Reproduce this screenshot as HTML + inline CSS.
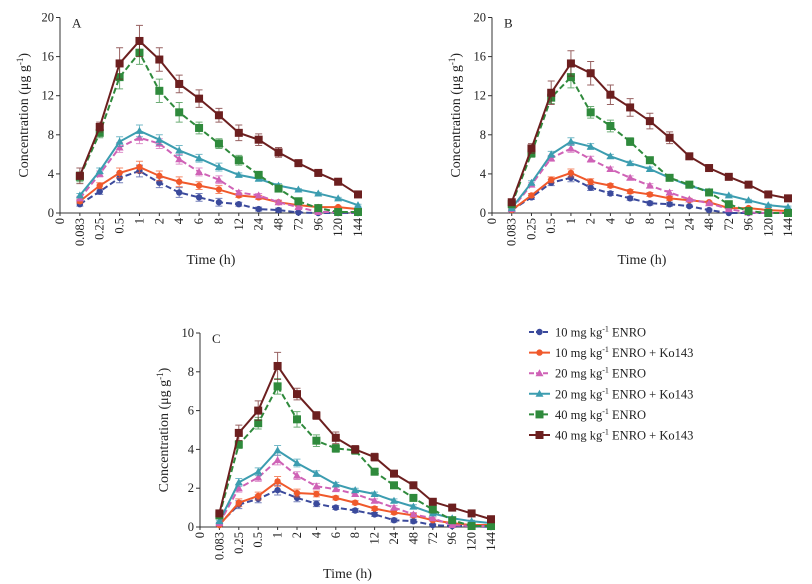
<!DOCTYPE html>
<html><head><meta charset="utf-8">
<style>
body{margin:0;background:#fff;}
svg{display:block;font-family:"Liberation Serif",serif;}
</style></head>
<body>
<svg id="chart" width="812" height="584" viewBox="0 0 812 584" xmlns="http://www.w3.org/2000/svg">
<rect width="812" height="584" fill="#fff"/>
<g id="legend"></g>
</svg>
<script>
const categories = ["0","0.083","0.25","0.5","1","2","4","6","8","12","24","48","72","96","120","144"];
const seriesNames = ["10 mg kg⁻¹ ENRO","10 mg kg⁻¹ ENRO + Ko143","20 mg kg⁻¹ ENRO","20 mg kg⁻¹ ENRO + Ko143","40 mg kg⁻¹ ENRO","40 mg kg⁻¹ ENRO + Ko143"];

// Panel A values (index 1..15 categories)
const aBlue   = [0.9,2.2,3.6,4.3,3.1,2.1,1.6,1.1,0.9,0.4,0.3,0.05,0,0,0];
const aOrange = [1.2,2.8,4.1,4.7,3.8,3.2,2.8,2.4,1.8,1.6,1.1,0.8,0.6,0.6,0.4];
const aPink   = [1.5,4.0,6.7,7.7,7.1,5.5,4.2,3.4,2.1,1.8,1.1,0.6,0.1,0.1,0.05];
const aTeal   = [1.8,4.3,7.3,8.4,7.5,6.4,5.6,4.7,3.9,3.5,2.8,2.4,2.0,1.5,0.8];
const aGreen  = [3.7,8.2,13.9,16.4,12.5,10.3,8.7,7.1,5.4,3.9,2.5,1.2,0.5,0.1,0.1];
const aBrown  = [3.8,8.8,15.3,17.6,15.7,13.2,11.7,10.0,8.2,7.5,6.2,5.1,4.1,3.2,1.9];
const aErrBrown = [0.8,0.5,1.6,1.6,1.2,0.9,0.9,0.7,0.8,0.6,0.5,0.3,0.2,0.2,0.2];
const aErrGreen = [0.5,0.5,1.2,1.2,1.2,1.0,0.6,0.5,0.5,0.3,0.2,0.2,0.1,0.1,0.1];
const aErrSmall = [0.2,0.3,0.5,0.6,0.5,0.5,0.4,0.4,0.2,0.2,0.2,0.1,0.1,0.1,0.1];

// Panel B
const bBlue   = [0.3,1.6,3.1,3.6,2.6,2.0,1.5,1.0,0.9,0.7,0.3,0,0,0,0];
const bOrange = [0.3,1.8,3.4,4.1,3.2,2.8,2.2,1.9,1.5,1.3,1.1,0.5,0.5,0.3,0.2];
const bPink   = [0.4,2.9,5.6,6.6,5.5,4.5,3.6,2.8,2.1,1.4,1.0,0.4,0.05,0,0];
const bTeal   = [0.5,3.1,6.0,7.3,6.8,5.8,5.1,4.5,3.6,2.8,2.2,1.8,1.3,0.8,0.6];
const bGreen  = [0.9,6.1,11.8,13.9,10.3,8.9,7.3,5.4,3.6,2.9,2.1,0.9,0.2,0,0];
const bBrown  = [1.1,6.6,12.3,15.3,14.3,12.1,10.8,9.4,7.7,5.8,4.6,3.7,2.9,1.9,1.5];
const bErrBrown = [0.3,0.5,1.2,1.3,1.2,1.0,0.9,0.8,0.6,0.3,0.2,0.2,0.1,0.1,0.1];
const bErrGreen = [0.2,0.4,0.6,1.1,0.6,0.6,0.4,0.2,0.2,0.2,0.1,0.1,0.1,0.1,0.1];
const bErrSmall = [0.1,0.2,0.3,0.4,0.3,0.2,0.2,0.2,0.2,0.1,0.1,0.1,0.1,0.1,0.1];

// Panel C
const cBlue   = [0.15,1.15,1.45,1.9,1.5,1.2,1.0,0.85,0.65,0.35,0.3,0.1,0.05,0.05,0];
const cOrange = [0.1,1.25,1.6,2.35,1.75,1.7,1.5,1.25,0.95,0.75,0.6,0.35,0.2,0.1,0.1];
const cPink   = [0.2,2.0,2.55,3.45,2.65,2.1,1.95,1.7,1.35,1.0,0.65,0.45,0.1,0.05,0.05];
const cTeal   = [0.3,2.3,2.85,3.95,3.3,2.75,2.2,1.9,1.7,1.35,1.05,0.7,0.45,0.3,0.2];
const cGreen  = [0.6,4.25,5.35,7.25,5.55,4.45,4.05,3.95,2.85,2.15,1.5,0.9,0.35,0.05,0.05];
const cBrown  = [0.7,4.85,6.0,8.3,6.85,5.75,4.6,4.0,3.6,2.75,2.15,1.3,1.0,0.7,0.4];
const cErrBrown = [0.1,0.4,0.5,0.7,0.3,0.2,0.3,0.2,0.2,0.1,0.1,0.1,0.1,0.1,0.1];
const cErrGreen = [0.1,0.2,0.3,0.4,0.4,0.3,0.2,0.2,0.1,0.1,0.1,0.1,0.1,0.1,0.1];
const cErrSmall = [0.05,0.2,0.2,0.25,0.2,0.15,0.1,0.1,0.1,0.1,0.1,0.05,0.05,0.05,0.05];

const yTicksAB = [0,4,8,12,16,20];
const yTicksC = [0,2,4,6,8,10];

const NS = "http://www.w3.org/2000/svg";
const svg = document.getElementById('chart');
const styles = [
  {c:"#3b4a9c", dash:"6,3", m:"circle"},
  {c:"#f0592b", dash:"", m:"circle"},
  {c:"#cf62b6", dash:"6,3", m:"tri"},
  {c:"#3c9db0", dash:"", m:"tri"},
  {c:"#2f8a3c", dash:"6,3", m:"square"},
  {c:"#6c1f1f", dash:"", m:"square"}
];
function mk(tag, attrs, parent){
  const e = document.createElementNS(NS, tag);
  for (const k in attrs) e.setAttribute(k, attrs[k]);
  parent.appendChild(e);
  return e;
}
function marker(g, m, x, y, col){
  let e;
  if (m === "circle") e = mk("circle", {cx:x, cy:y, r:3.2, fill:col}, g);
  else if (m === "tri") e = mk("polygon", {points:`${x},${y-4} ${x-4},${y+3} ${x+4},${y+3}`, fill:col}, g);
  else e = mk("rect", {x:x-4, y:y-4, width:8, height:8, fill:col}, g);
  return e;
}
function panel(id, x0, xEnd, y0, yTop, yMax, yTicks, letter, series, errs){
  const g = mk("g", {}, svg);
  
  
  const step = (xEnd - x0) / (categories.length - 1);
  const X = i => x0 + i * step;
  const Y = v => y0 - v / yMax * (y0 - yTop);
  const ax = mk("path", {d:`M${x0},${yTop} V${y0} H${xEnd+4}`, stroke:"#333", fill:"none", "stroke-width":1}, g);
  
  
  yTicks.forEach(t => {
    mk("line", {x1:x0-4, x2:x0, y1:Y(t), y2:Y(t), stroke:"#333"}, g);
    const tx = mk("text", {x:x0-6, y:Y(t)+4, "text-anchor":"end", "font-size":12.5, fill:"#222"}, g);
    tx.textContent = t;
    
    
  });
  categories.forEach((c, i) => {
    mk("line", {x1:X(i), x2:X(i), y1:y0, y2:y0+3, stroke:"#333"}, g);
    const tx = mk("text", {x:0, y:0, "text-anchor":"end", "font-size":12.5, fill:"#222",
      transform:`translate(${X(i)+4},${y0+5}) rotate(-90)`}, g);
    tx.textContent = c;
    
    
  });
  const lt = mk("text", {x:x0+12, y:yTop+10, "font-size":13, fill:"#222"}, g);
  lt.textContent = letter;
  
  
  const yl = mk("text", {x:0, y:0, "text-anchor":"middle", "font-size":14, fill:"#222",
    transform:`translate(${x0-32},${(y0+yTop)/2}) rotate(-90)`}, g);
  yl.innerHTML = 'Concentration (μg g<tspan dy="-5" font-size="9">-1</tspan><tspan dy="5">)</tspan>';
  
  
  const xl = mk("text", {x:(x0+xEnd)/2+2, y:y0+51, "text-anchor":"middle", "font-size":14, fill:"#222"}, g);
  xl.textContent = "Time (h)";
  
  
  series.forEach((vals, s) => {
    const st = styles[s];
    const sg = mk("g", {}, g);
    
    
    const err = errs[s];
    if (err) vals.forEach((v, j) => {
      const x = X(j+1), e = err[j];
      mk("path", {d:`M${x},${Y(v+e)} V${Y(Math.max(0,v-e))} M${x-3.5},${Y(v+e)} H${x+3.5} M${x-3.5},${Y(Math.max(0,v-e))} H${x+3.5}`,
        stroke:st.c, "stroke-opacity":0.7, "stroke-width":1, fill:"none"}, sg);
    });
    const pts = vals.map((v, j) => `${X(j+1)},${Y(v)}`).join(" ");
    const pl = mk("polyline", {points:pts, fill:"none", stroke:st.c, "stroke-width":2, "stroke-dasharray":st.dash}, sg);
    
    
    vals.forEach((v, j) => {
      const mkr = marker(sg, st.m, X(j+1), Y(v), st.c);
      
      
    });
  });
}
panel("a", 60, 358, 213, 17.5, 20, yTicksAB, "A",
  [aBlue,aOrange,aPink,aTeal,aGreen,aBrown],
  [aErrSmall,aErrSmall,aErrSmall,aErrSmall,aErrGreen,aErrBrown]);
panel("b", 492, 788, 213, 17.5, 20, yTicksAB, "B",
  [bBlue,bOrange,bPink,bTeal,bGreen,bBrown],
  [bErrSmall,bErrSmall,bErrSmall,bErrSmall,bErrGreen,bErrBrown]);
panel("c", 200, 491, 527, 333, 10, yTicksC, "C",
  [cBlue,cOrange,cPink,cTeal,cGreen,cBrown],
  [cErrSmall,cErrSmall,cErrSmall,cErrSmall,cErrGreen,cErrBrown]);

const lg = document.getElementById('legend');
seriesNames.forEach((n, i) => {
  const y = 332 + i * 20.6;
  const st = styles[i];
  const eg = mk("g", {}, lg);
  
  
  mk("line", {x1:529, x2:550, y1:y, y2:y, stroke:st.c, "stroke-width":2, "stroke-dasharray":st.dash ? "5,2" : ""}, eg);
  marker(eg, st.m, 539.5, y, st.c);
  const t = mk("text", {x:555, y:y+4.5, "font-size":12.5, fill:"#222"}, eg);
  const parts = n.split("⁻¹");
  t.innerHTML = parts[0] + '<tspan dy="-5" font-size="8">-1</tspan><tspan dy="5">' + parts[1] + '</tspan>';
});
</script>
</body></html>
